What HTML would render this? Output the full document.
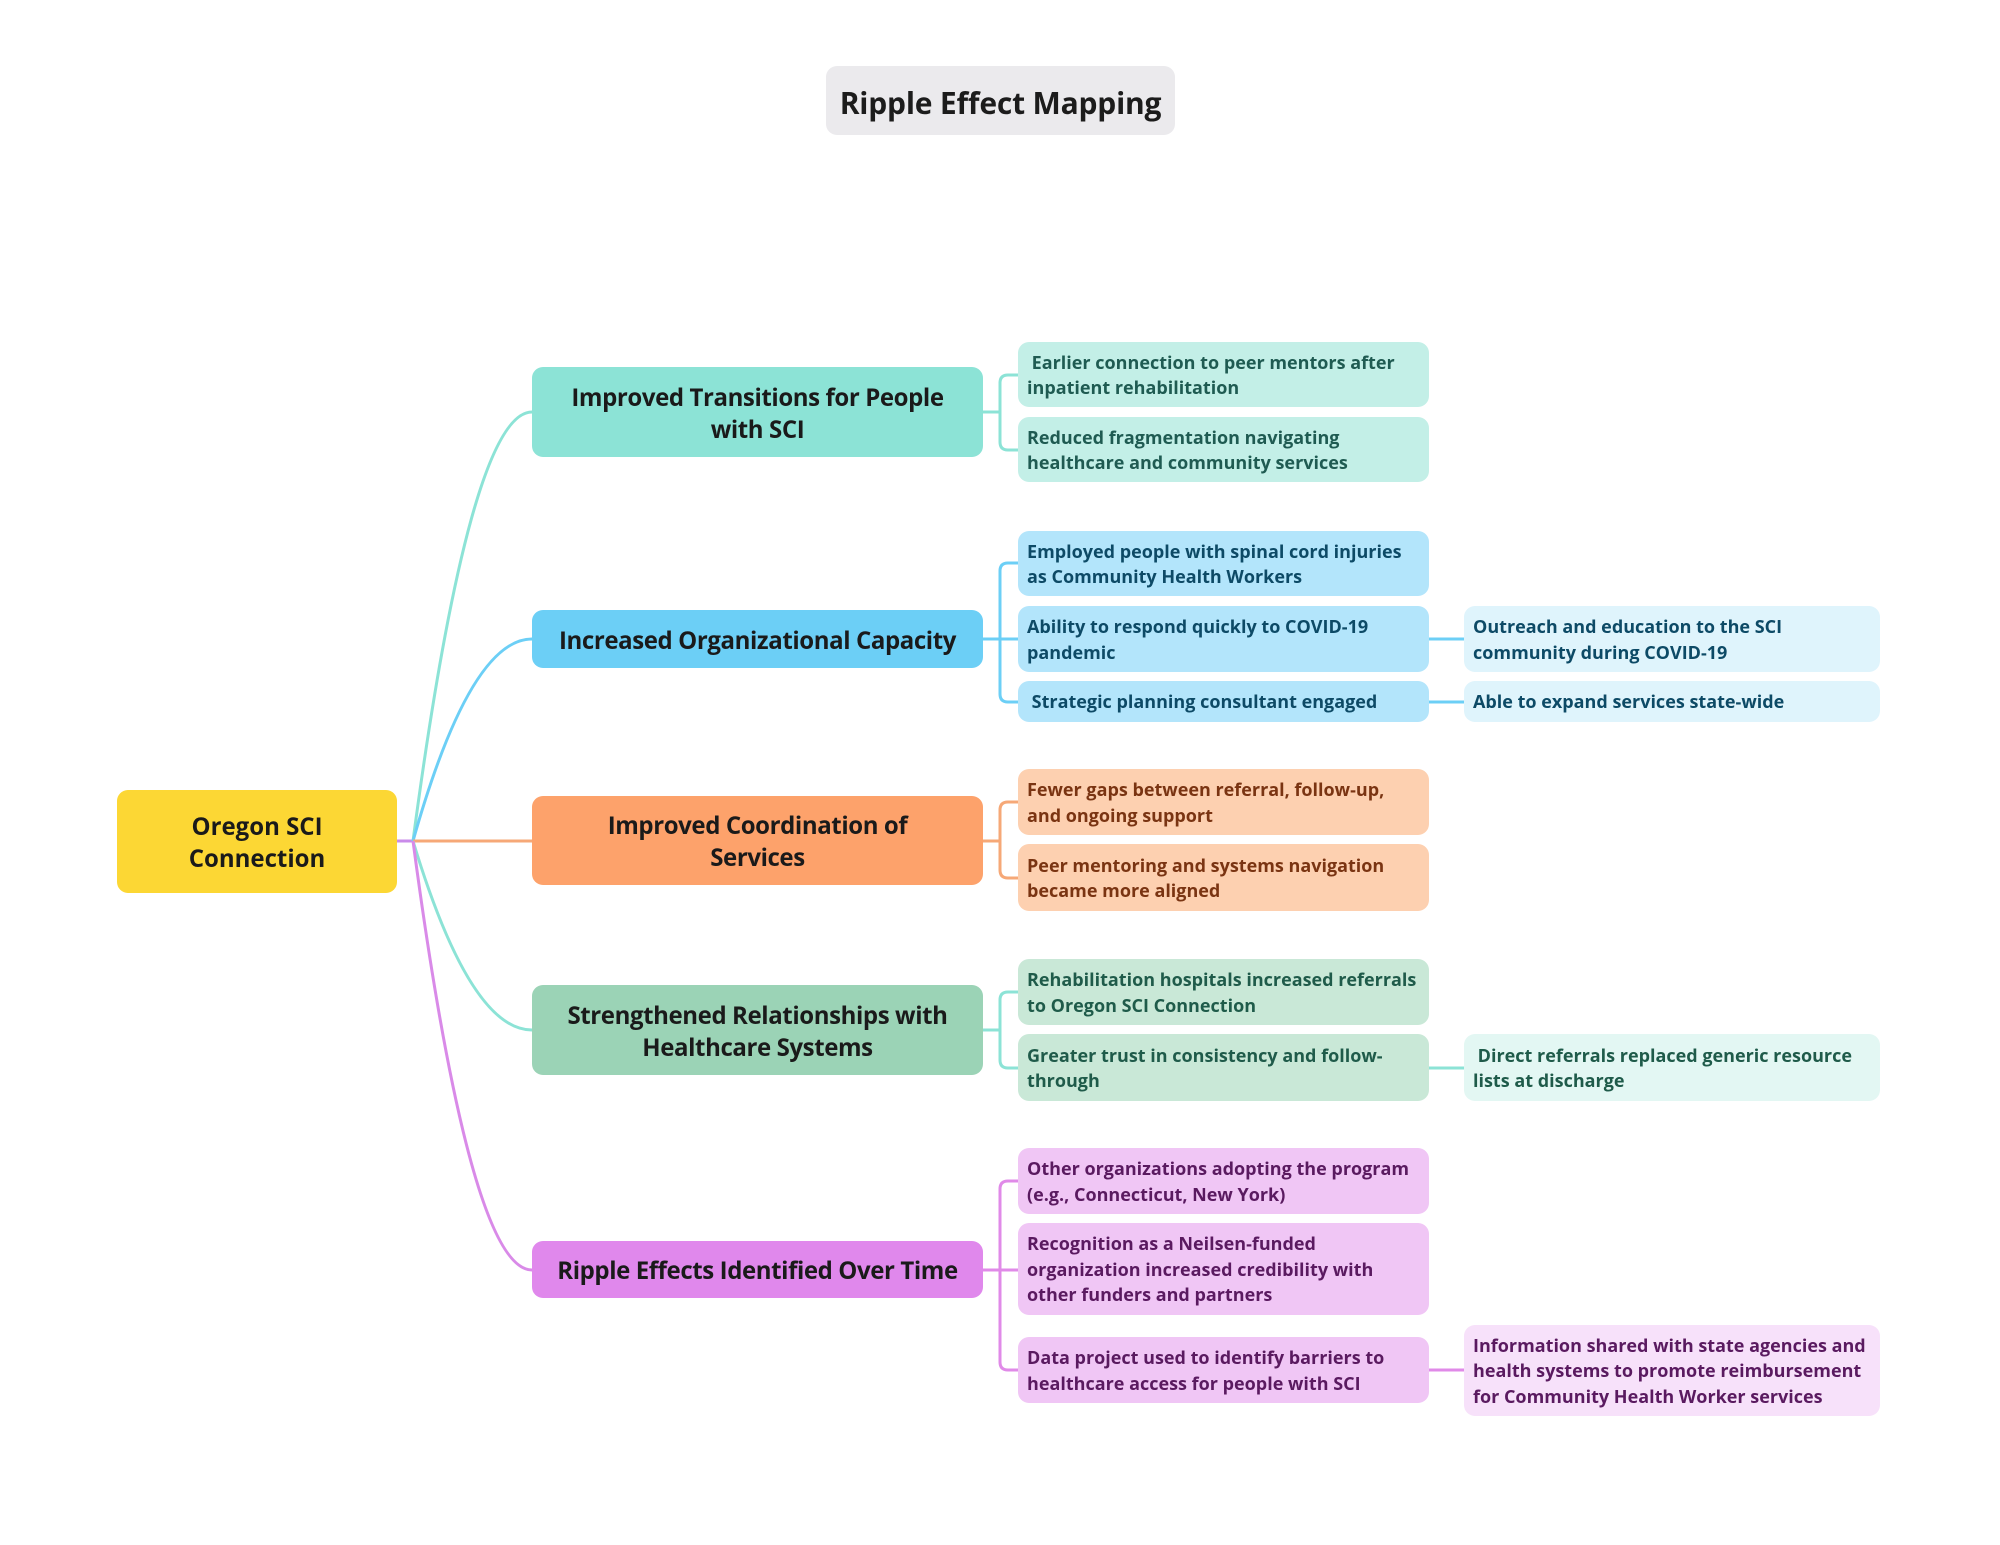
<!DOCTYPE html>
<html><head><meta charset="utf-8"><style>
html,body{margin:0;padding:0;background:#fff;}
body{width:2000px;height:1545px;position:relative;overflow:hidden;font-family:"Open Sans","Liberation Sans",sans-serif;}
.b{position:absolute;box-sizing:border-box;border-radius:11px;display:flex;align-items:center;padding-top:3px;}
.t{left:826px;top:66px;width:349px;height:69px;background:#ebeaed;justify-content:center;font-size:30px;font-weight:bold;color:#1c1c1c;letter-spacing:-0.2px;}
.root{left:117px;top:790px;width:280px;height:103px;background:#fcd734;justify-content:center;text-align:center;font-size:24px;font-weight:bold;color:#1a1a1a;line-height:32px;}
.m{left:532px;width:451px;justify-content:center;text-align:center;font-size:24px;font-weight:bold;color:#1a1a1a;line-height:32px;letter-spacing:-0.4px;}
.s{left:1018px;width:411px;padding-left:9px;font-size:18px;font-weight:bold;line-height:25.5px;letter-spacing:0px;white-space:nowrap;}
.x{left:1464px;width:416px;padding-left:9px;font-size:18px;font-weight:bold;line-height:25.5px;letter-spacing:0px;white-space:nowrap;}
.c1{color:#1f5b52}.c2{color:#0d4a66}.c3{color:#7a3412}.c4{color:#1f5b4a}.c5{color:#5a1a60}
</style></head><body>
<svg width="2000" height="1545" style="position:absolute;left:0;top:0" fill="none" stroke-width="3">
<line x1="397" y1="841" x2="413" y2="841" stroke="#c98bea"/>
<path d="M413 841 Q470 412 532 412" stroke="#8ce3d6"/>
<path d="M413 841 Q470 639 532 639" stroke="#6ccff6"/>
<path d="M413 841 L532 841" stroke="#f6a877"/>
<path d="M413 841 Q470 1030 532 1030" stroke="#8ce3d6"/>
<path d="M413 841 Q470 1270 532 1270" stroke="#d98ae8"/>
<path d="M983 412 H1000 M1018 375 H1008 Q1000 375 1000 383 V442 Q1000 450 1008 450 H1018" stroke="#8ce3d6"/>
<path d="M983 639 H1000 M1018 563 H1008 Q1000 563 1000 571 V694 Q1000 702 1008 702 H1018 M1000 639 H1018" stroke="#6ccff6"/>
<path d="M1429 639 H1464 M1429 702 H1464" stroke="#6ccff6"/>
<path d="M983 841 H1000 M1018 802 H1008 Q1000 802 1000 810 V870 Q1000 878 1008 878 H1018" stroke="#f6a877"/>
<path d="M983 1030 H1000 M1018 992 H1008 Q1000 992 1000 1000 V1060 Q1000 1068 1008 1068 H1018" stroke="#8ce3d6"/>
<path d="M1429 1068 H1464" stroke="#8ce3d6"/>
<path d="M983 1270 H1018 M1018 1181 H1008 Q1000 1181 1000 1189 V1362 Q1000 1370 1008 1370 H1018" stroke="#e08ae8"/>
<path d="M1429 1370 H1464" stroke="#e08ae8"/>
</svg>
<div class="b t">Ripple Effect Mapping</div>
<div class="b root">Oregon SCI<br>Connection</div>

<div class="b m" style="top:367px;height:90px;background:#8ce3d6">Improved Transitions for People<br>with SCI</div>
<div class="b m" style="top:610px;height:58px;background:#6ccff6">Increased Organizational Capacity</div>
<div class="b m" style="top:796px;height:89px;background:#fda26b">Improved Coordination of<br>Services</div>
<div class="b m" style="top:985px;height:90px;background:#9bd3b6">Strengthened Relationships with<br>Healthcare Systems</div>
<div class="b m" style="top:1241px;height:57px;background:#e088ec">Ripple Effects Identified Over Time</div>

<div class="b s c1" style="top:342px;height:65px;background:#c3efe7">&nbsp;Earlier connection to peer mentors after<br>inpatient rehabilitation</div>
<div class="b s c1" style="top:417px;height:65px;background:#c3efe7">Reduced fragmentation navigating<br>healthcare and community services</div>

<div class="b s c2" style="top:531px;height:65px;background:#b3e5fb">Employed people with spinal cord injuries<br>as Community Health Workers</div>
<div class="b s c2" style="top:606px;height:66px;background:#b3e5fb">Ability to respond quickly to COVID-19<br>pandemic</div>
<div class="b s c2" style="top:681px;height:41px;background:#b3e5fb">&nbsp;Strategic planning consultant engaged</div>
<div class="b x c2" style="top:606px;height:66px;background:#dff4fc">Outreach and education to the SCI<br>community during COVID-19</div>
<div class="b x c2" style="top:681px;height:41px;background:#dff4fc">Able to expand services state-wide</div>

<div class="b s c3" style="top:769px;height:66px;background:#fdd0b0">Fewer gaps between referral, follow-up,<br>and ongoing support</div>
<div class="b s c3" style="top:844px;height:67px;background:#fdd0b0">Peer mentoring and systems navigation<br>became more aligned</div>

<div class="b s c4" style="top:959px;height:66px;background:#c9e8d7">Rehabilitation hospitals increased referrals<br>to Oregon SCI Connection</div>
<div class="b s c4" style="top:1034px;height:67px;background:#c9e8d7">Greater trust in consistency and follow-<br>through</div>
<div class="b x c4" style="top:1034px;height:67px;background:#e3f7f3">&nbsp;Direct referrals replaced generic resource<br>lists at discharge</div>

<div class="b s c5" style="top:1148px;height:66px;background:#f0c6f5">Other organizations adopting the program<br>(e.g., Connecticut, New York)</div>
<div class="b s c5" style="top:1223px;height:92px;background:#f0c6f5">Recognition as a Neilsen-funded<br>organization increased credibility with<br>other funders and partners</div>
<div class="b s c5" style="top:1337px;height:66px;background:#f0c6f5">Data project used to identify barriers to<br>healthcare access for people with SCI</div>
<div class="b x c5" style="top:1325px;height:91px;background:#f7e1fa">Information shared with state agencies and<br>health systems to promote reimbursement<br>for Community Health Worker services</div>
</body></html>
